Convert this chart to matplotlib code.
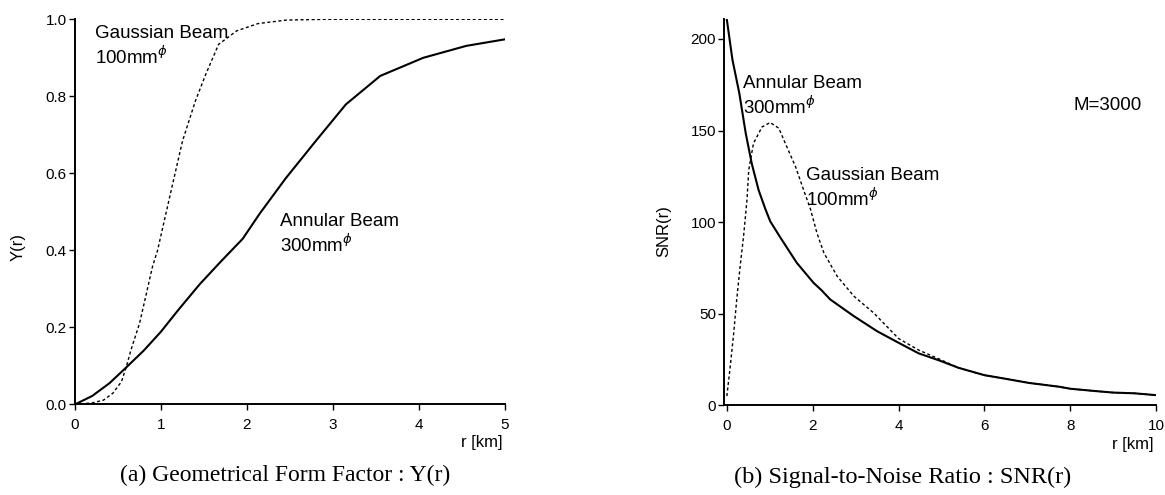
import numpy as np
import matplotlib
matplotlib.use("Agg")
import matplotlib.pyplot as plt

plt.rcParams['font.family'] = ['Liberation Sans', 'DejaVu Sans']
plt.rcParams['mathtext.fontset'] = 'dejavusans'

# (a) geometrical form factor Y(r)
r_ann_a = [0, 0.2, 0.4, 0.6, 0.8, 1.0, 1.2, 1.45, 1.7, 1.95, 2.15, 2.45, 2.8, 3.15, 3.55, 4.05, 4.55, 5.0]
y_ann_a = [0, 0.022, 0.055, 0.097, 0.14, 0.189, 0.245, 0.312, 0.372, 0.43, 0.496, 0.587, 0.684, 0.779, 0.853, 0.90, 0.931, 0.948]

r_gau_a = [0, 0.2, 0.33, 0.44, 0.54, 0.6, 0.65, 0.75, 0.83, 0.9, 0.96, 1.09, 1.25, 1.4, 1.52, 1.67, 1.88, 2.13, 2.46, 2.9, 5.0]
y_gau_a = [0, 0.004, 0.011, 0.029, 0.059, 0.10, 0.141, 0.21, 0.288, 0.357, 0.40, 0.528, 0.684, 0.788, 0.857, 0.935, 0.97, 0.989, 0.998, 1.0, 1.0]

# (b) signal-to-noise ratio SNR(r), M=3000
r_ann_b = [0, 0.13, 0.29, 0.44, 0.58, 0.74, 0.9, 1.01, 1.25, 1.63, 2.02, 2.2, 2.41, 2.96, 3.5, 4.0, 4.47, 4.93,
           5.4, 6.0, 6.5, 7.03, 7.74, 8.0, 8.6, 9.0, 9.5, 10.0]
snr_ann_b = [210.5, 188.7, 170.4, 148.5, 132, 117.5, 107, 100.5, 91.5, 77.8, 66.9, 63, 57.8, 48.7, 40.5, 34.2, 28.4, 24.7,
             20.5, 16.5, 14.5, 12.3, 10.2, 9.1, 7.8, 7.0, 6.6, 5.6]

r_gau_b = [0, 0.08, 0.16, 0.23, 0.31, 0.39, 0.47, 0.51, 0.62, 0.82, 1.01, 1.21, 1.4, 1.6, 1.79, 1.95, 2.1, 2.26, 2.57,
           2.96, 3.42, 4.0, 4.47, 4.93, 5.4, 6.0, 6.5, 7.03, 7.74, 8.0, 8.6, 9.0, 9.5, 10.0]
snr_gau_b = [5.1, 21.5, 39.6, 57.8, 76, 92.4, 112.4, 128.5, 143, 152, 154.4, 151.3, 141, 130.3, 117.5, 107, 94, 83.3, 70.5,
             59.6, 50.5, 36.5, 30.2, 25.5, 20.5, 16.5, 14.5, 12.3, 10.2, 9.1, 7.8, 7.0, 6.6, 5.6]

fig = plt.figure(figsize=(11.65, 4.95), dpi=100)
ax1 = fig.add_axes([0.0644, 0.183, 0.369, 0.778])
ax2 = fig.add_axes([0.6217, 0.181, 0.3706, 0.781])

dot = (0, (2.2, 1.8))

for ax in (ax1, ax2):
    ax.spines['top'].set_visible(False)
    ax.spines['right'].set_visible(False)
    ax.spines['left'].set_linewidth(1.4)
    ax.spines['bottom'].set_linewidth(1.4)
    ax.tick_params(direction='out', length=4, width=1.0, labelsize=11, pad=2)
    ax.tick_params(axis='x', pad=5.5)

# left panel
ax1.plot(r_ann_a, y_ann_a, color='black', lw=1.5)
ax1.plot(r_gau_a, y_gau_a, color='black', lw=1.0, linestyle=dot)
ax1.set_xlim(0, 5)
ax1.set_ylim(0, 1.0)
ax1.set_xticks([0, 1, 2, 3, 4, 5])
ax1.set_yticks([0, 0.2, 0.4, 0.6, 0.8, 1.0])
ax1.set_yticklabels(['0.0', '0.2', '0.4', '0.6', '0.8', '1.0'])
ax1.text(-0.133, 0.41, 'Y(r)', transform=ax1.transAxes, rotation=90, ha='center', va='center', fontsize=12)
ax1.text(0.995, -0.10, 'r [km]', transform=ax1.transAxes, ha='right', va='center', fontsize=12)
ax1.text(0.23, 0.985, 'Gaussian Beam\n100mm$^{\\phi}$', fontsize=13.5, ha='left', va='top', linespacing=1.2)
ax1.text(2.38, 0.497, 'Annular Beam\n300mm$^{\\phi}$', fontsize=13.5, ha='left', va='top', linespacing=1.2)

# right panel
ax2.plot(r_ann_b, snr_ann_b, color='black', lw=1.5)
ax2.plot(r_gau_b, snr_gau_b, color='black', lw=1.0, linestyle=dot)
ax2.set_xlim(-0.06, 10)
ax2.set_ylim(0, 211)
ax2.set_xticks([0, 2, 4, 6, 8, 10])
ax2.set_yticks([0, 50, 100, 150, 200])
ax2.text(-0.14, 0.45, 'SNR(r)', transform=ax2.transAxes, rotation=90, ha='center', va='center', fontsize=12)
ax2.text(0.995, -0.10, 'r [km]', transform=ax2.transAxes, ha='right', va='center', fontsize=12)
ax2.text(0.38, 180.5, 'Annular Beam\n300mm$^{\\phi}$', fontsize=13.5, ha='left', va='top', linespacing=1.2)
ax2.text(1.85, 130, 'Gaussian Beam\n100mm$^{\\phi}$', fontsize=13.5, ha='left', va='top', linespacing=1.2)
ax2.text(8.08, 163.6, 'M=3000', fontsize=13.5, ha='left', va='center')

fig.text(0.245, 0.04, '(a) Geometrical Form Factor : Y(r)', family='Liberation Serif', fontsize=17, ha='center', va='center')
fig.text(0.775, 0.036, '(b) Signal-to-Noise Ratio : SNR(r)', family='Liberation Serif', fontsize=17.5, ha='center', va='center')

fig.savefig('out.png', dpi=100)
